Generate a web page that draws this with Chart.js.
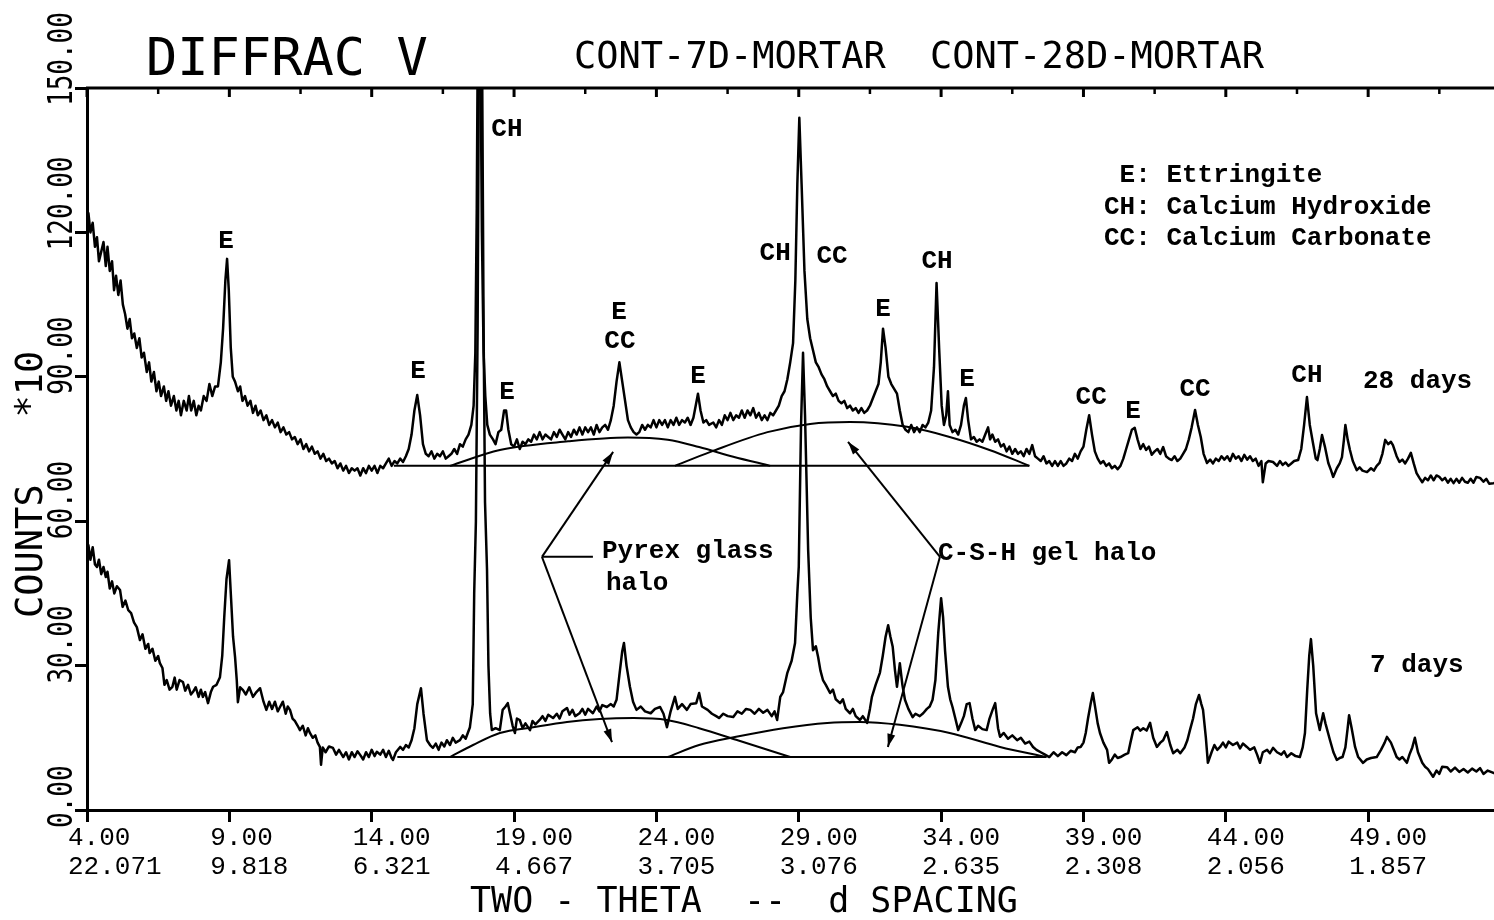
<!DOCTYPE html>
<html>
<head>
<meta charset="utf-8">
<title>DIFFRAC V</title>
<script src="https://cdn.jsdelivr.net/npm/chart.js@4.4.1/dist/chart.umd.min.js"></script>
<style>
  html, body { margin: 0; padding: 0; background: #fff; }
  #xrd { display: block; }
</style>
</head>
<body>
<canvas id="xrd" width="1494" height="920"></canvas>
<script>
// axis ticks: two-theta with the d spacing printed under it, counts (*10)
var thetaTicks = [4, 9, 14, 19, 24, 29, 34, 39, 44, 49];
var dSpacing = ['22.071', '9.818', '6.321', '4.667', '3.705', '3.076', '2.635', '2.308', '2.056', '1.857'];
var countTicks = [0, 30, 60, 90, 120, 150];

// 28 days pattern [two-theta, counts*10]
var trace28 = [
  [3.95,121],[4.05,124],[4.12,120],[4.2,122],[4.28,117],[4.35,119],[4.42,114],[4.5,116],[4.58,118],[4.66,113],
  [4.72,117],[4.8,112],[4.88,114],[4.95,108],[5.02,111],[5.1,107],[5.18,110],[5.26,105],[5.34,103],[5.42,100],
  [5.5,102],[5.58,98],[5.66,99],[5.75,96],[5.84,98],[5.92,94],[6.0,95],[6.1,91],[6.18,93],[6.26,89],
  [6.35,91],[6.44,87],[6.52,89],[6.6,86],[6.7,88],[6.78,85],[6.86,87],[6.95,84],[7.05,86],[7.14,83],
  [7.22,85],[7.3,82],[7.4,85],[7.5,83],[7.58,86],[7.66,83],[7.75,85],[7.84,82],[7.92,84],[8.0,83],
  [8.1,86],[8.2,85],[8.3,88.5],[8.4,86],[8.5,88],[8.6,88],[8.7,93],[8.78,100],[8.86,110],[8.92,114.5],
  [8.98,108],[9.05,96],[9.12,90],[9.2,89],[9.3,87],[9.38,88],[9.46,85],[9.55,86],[9.64,84],[9.74,85],
  [9.83,82.5],[9.92,84],[10.0,82],[10.1,83],[10.2,81],[10.3,82],[10.4,80],[10.5,81],[10.6,79.5],[10.7,80.5],
  [10.8,78.5],[10.9,79.5],[11.0,78],[11.1,78.5],[11.2,77],[11.3,77.5],[11.4,76],[11.5,77],[11.6,75],[11.7,76],
  [11.8,74.5],[11.9,75.5],[12.0,74],[12.1,74.5],[12.2,73],[12.3,74],[12.4,72.5],[12.5,73],[12.6,72],[12.7,72.5],
  [12.8,71],[12.9,72],[13.0,70.5],[13.1,71.5],[13.2,70],[13.3,71],[13.4,70.5],[13.5,71],[13.6,69.5],[13.7,71],
  [13.8,70],[13.9,71.5],[14.0,70.5],[14.1,71.5],[14.2,70],[14.3,71.5],[14.4,71],[14.5,72],[14.6,73],[14.7,71.5],
  [14.8,72.5],[14.9,72],[15.0,73],[15.1,72.3],[15.2,73.5],[15.3,75],[15.4,78],[15.5,83],[15.6,86.2],[15.7,82],
  [15.8,76],[15.9,74],[16.0,73.5],[16.1,74.5],[16.2,73],[16.3,74],[16.4,73.5],[16.5,74.5],[16.6,73],[16.7,73.5],
  [16.8,74],[16.9,75],[17.0,74],[17.1,76],[17.2,75.5],[17.3,77],[17.4,78],[17.5,80],[17.58,84],[17.64,95],
  [17.69,125],[17.74,175],[17.8,175],[17.87,120],[17.93,95],[17.99,86],[18.06,80],[18.15,78],[18.26,77],[18.35,76],
  [18.45,78.5],[18.55,79],[18.65,83],[18.72,83],[18.8,79],[18.9,76],[19.0,75.5],[19.1,77],[19.2,75],[19.3,76.5],
  [19.4,76],[19.5,77],[19.6,76.5],[19.7,78],[19.8,77],[19.9,78.5],[20.0,77],[20.1,78],[20.2,77.5],[20.3,77],
  [20.4,78.5],[20.5,77.5],[20.6,79],[20.7,78],[20.8,77],[20.9,78.5],[21.0,77.5],[21.1,79],[21.2,78],[21.3,79.5],
  [21.4,78],[21.5,79.5],[21.6,78.5],[21.7,79.5],[21.8,78],[21.9,80],[22.0,78.5],[22.1,79.5],[22.2,80],[22.3,79],
  [22.4,81],[22.5,84],[22.6,89],[22.7,93],[22.8,89],[22.9,85],[23.0,81],[23.1,79.5],[23.2,78.5],[23.3,78],
  [23.4,78.5],[23.5,80],[23.6,79],[23.7,80],[23.8,79.5],[23.9,81],[24.0,79.5],[24.1,81],[24.2,80],[24.3,81],
  [24.4,79.5],[24.5,81],[24.6,80],[24.7,81.5],[24.8,80],[24.9,81],[25.0,80.5],[25.1,81.5],[25.2,80],[25.3,81.5],
  [25.38,84],[25.46,86.5],[25.55,83],[25.65,80.5],[25.75,81],[25.85,80],[26.0,80.5],[26.1,79.5],[26.2,81],[26.3,80],
  [26.4,82],[26.5,81],[26.6,82.5],[26.7,81],[26.8,82],[26.9,81.5],[27.0,83],[27.1,81.5],[27.2,83],[27.3,82],
  [27.4,83.5],[27.5,81.5],[27.6,82.5],[27.7,81],[27.8,82],[27.9,81],[28.0,82.5],[28.1,82],[28.2,83],[28.3,84],
  [28.4,86],[28.5,87],[28.6,89.5],[28.7,93],[28.8,97],[28.88,110],[28.95,130],[29.02,143.8],[29.1,130],[29.2,112],
  [29.3,102],[29.4,98],[29.5,95.5],[29.6,93],[29.7,92],[29.8,90.5],[29.9,89.5],[30.0,88],[30.1,87],[30.2,86],
  [30.3,86.5],[30.4,85],[30.5,84.5],[30.6,85],[30.7,83.5],[30.8,84],[30.9,83],[31.0,83.5],[31.1,82.5],[31.2,83.5],
  [31.3,82.5],[31.4,83],[31.5,84],[31.6,85.5],[31.7,87],[31.8,88.5],[31.88,93],[31.96,100],[32.05,96],[32.15,90],
  [32.25,88.5],[32.35,87.5],[32.45,86.5],[32.55,83],[32.65,80],[32.75,79],[32.85,78.5],[32.95,80],[33.05,78.5],[33.15,79.5],
  [33.25,78.5],[33.35,80],[33.45,79.5],[33.55,80.5],[33.65,83],[33.75,92],[33.84,109.5],[33.93,96],[34.02,84],[34.1,80],
  [34.18,82],[34.24,87],[34.3,80],[34.4,78.5],[34.5,79],[34.6,78],[34.7,80],[34.8,84],[34.87,85.6],[34.95,81],
  [35.05,77],[35.15,77.5],[35.25,76.5],[35.35,77],[35.45,76.5],[35.55,78],[35.65,79.5],[35.72,77],[35.8,78],[35.9,76.5],
  [36.0,77],[36.1,75.5],[36.2,76],[36.3,74.5],[36.4,75.5],[36.5,74],[36.6,75],[36.7,74],[36.8,74.5],[36.9,73.5],
  [37.0,75],[37.1,74],[37.2,75.8],[37.3,73.5],[37.4,73],[37.5,72.5],[37.6,73.5],[37.7,72],[37.8,72.5],[37.9,71.5],
  [38.0,72.5],[38.1,71.5],[38.2,72.5],[38.3,71.5],[38.4,72],[38.5,73],[38.6,72.5],[38.7,74],[38.8,73],[38.9,74.5],
  [39.0,75.5],[39.1,79],[39.2,82],[39.3,78],[39.4,74.5],[39.5,73],[39.6,72],[39.7,72.5],[39.8,71.5],[39.9,72],
  [40.0,71],[40.1,71.5],[40.2,70.8],[40.3,71.5],[40.4,73],[40.5,75],[40.6,77],[40.7,79],[40.8,79.4],[40.9,77],
  [41.0,75],[41.1,76],[41.2,74.8],[41.3,75.5],[41.4,73.8],[41.5,74.5],[41.6,75],[41.7,74],[41.8,75.4],[41.9,73.5],
  [42.0,73],[42.1,72.7],[42.2,73.5],[42.3,72.5],[42.4,73],[42.5,74],[42.6,75],[42.7,77],[42.8,79.5],[42.92,83.1],
  [43.02,80],[43.12,77.5],[43.22,74],[43.34,72.1],[43.45,72.8],[43.55,72],[43.65,73],[43.75,72.5],[43.85,73.5],[43.95,72.8],
  [44.05,73.5],[44.15,72.5],[44.25,74],[44.35,73],[44.45,73.5],[44.55,72.5],[44.65,73.8],[44.75,72.8],[44.85,73.5],[44.95,72.5],
  [45.05,73],[45.15,71.5],[45.25,72.5],[45.3,68.1],[45.4,72],[45.5,72.5],[45.66,72.3],[45.8,71.5],[45.9,72.5],[46.0,71.7],
  [46.1,72.2],[46.2,71.5],[46.3,72],[46.4,72.5],[46.54,72.7],[46.65,75],[46.75,80],[46.85,85.8],[46.95,80],[47.06,76.3],
  [47.16,73],[47.22,72.7],[47.3,75],[47.38,77.9],[47.48,75.5],[47.6,72.1],[47.7,70.5],[47.77,69.2],[47.9,71],[48.0,72],
  [48.08,73.3],[48.15,77],[48.2,80],[48.28,77],[48.36,74.8],[48.46,72.5],[48.6,70.6],[48.7,71.2],[48.8,70.5],[48.96,70.2],
  [49.1,71],[49.2,70.5],[49.3,71.5],[49.4,72.1],[49.5,74],[49.6,76.9],[49.7,76],[49.8,76.5],[49.87,75.8],[50.0,73.5],
  [50.1,72.3],[50.2,72.8],[50.3,72],[50.4,73],[50.5,74.2],[50.6,72],[50.7,70],[50.8,69],[50.9,68.1],[51.0,69],
  [51.1,68.5],[51.2,69.5],[51.3,68.5],[51.4,69.5],[51.5,69.2],[51.6,68.5],[51.7,69],[51.8,68],[51.9,68.8],[52.0,67.9],
  [52.1,68.8],[52.2,68],[52.3,69],[52.4,68.2],[52.5,68],[52.6,68.8],[52.7,68],[52.8,69.2],[52.93,69],[53.05,68.2],
  [53.15,68.8],[53.25,67.8],[53.4,67.9],[53.5,68]
];

// 7 days pattern
var trace7 = [
  [3.95,53],[4.05,55],[4.12,52],[4.2,54.6],[4.28,51],[4.35,50.5],[4.42,52],[4.5,49],[4.58,50.5],[4.66,48.4],
  [4.72,49.5],[4.8,46],[4.88,47.5],[4.96,45],[5.05,46.5],[5.16,45.7],[5.25,42.2],[5.35,43.5],[5.45,41.5],[5.55,40.9],
  [5.65,39],[5.75,38],[5.86,35.3],[5.95,36.5],[6.05,33.5],[6.15,34.5],[6.2,32.6],[6.3,33.5],[6.4,31],[6.5,32],
  [6.56,30.5],[6.65,29.5],[6.72,26],[6.8,27],[6.9,25],[7.0,25.6],[7.08,27.5],[7.15,25],[7.25,27],[7.37,26.6],
  [7.45,24.8],[7.55,26],[7.65,24],[7.72,24.5],[7.82,25.5],[7.92,23.5],[8.0,25],[8.07,23.5],[8.15,24.5],[8.25,22.2],
  [8.35,24.5],[8.43,25.6],[8.55,26],[8.67,27.6],[8.75,32],[8.82,40],[8.9,48],[8.99,51.9],[9.06,44],[9.13,36],
  [9.2,31.8],[9.26,27],[9.3,22.4],[9.38,25.5],[9.48,24.9],[9.58,24],[9.7,25.5],[9.83,23.5],[9.95,24.5],[10.08,25.3],
  [10.2,22.5],[10.3,20.8],[10.4,22.5],[10.5,21],[10.6,22.5],[10.7,20.5],[10.78,21.4],[10.88,22.5],[10.98,20],[11.05,21.5],
  [11.13,20.8],[11.22,19],[11.3,18.5],[11.4,17.5],[11.48,16.6],[11.58,17.5],[11.68,15.5],[11.76,17],[11.83,16],[11.93,15],
  [12.02,15.5],[12.1,14],[12.18,13.1],[12.22,9.4],[12.28,13],[12.38,12],[12.5,13.2],[12.64,12.9],[12.75,11.5],[12.85,12.5],
  [13.0,11],[13.1,12],[13.2,10.5],[13.3,12],[13.4,11],[13.5,12.2],[13.6,11.4],[13.7,10.5],[13.8,12],[13.9,11],
  [14.0,12.5],[14.1,11.2],[14.18,12.1],[14.3,11.5],[14.4,12.5],[14.5,11],[14.6,12.3],[14.7,10.8],[14.75,10.4],[14.85,12],
  [15.0,13.1],[15.1,12.5],[15.2,13.5],[15.3,13],[15.4,14.5],[15.5,17],[15.6,22],[15.73,25.3],[15.82,20],[15.94,14.5],
  [16.05,13.5],[16.15,12.9],[16.25,13.8],[16.35,12.5],[16.45,14],[16.55,13.2],[16.64,14.5],[16.75,13.5],[16.85,15],[16.95,14],
  [17.1,14.5],[17.2,15.5],[17.3,14.8],[17.45,17.2],[17.55,22],[17.6,45],[17.66,60],[17.72,100],[17.78,175],[17.86,175],
  [17.93,100],[17.98,64],[18.05,50],[18.1,30],[18.16,20],[18.22,16.6],[18.35,17],[18.5,16.6],[18.6,20.8],[18.7,21.5],
  [18.78,22.2],[18.86,20],[18.95,17.5],[19.03,16],[19.1,19],[19.2,18.7],[19.3,17],[19.4,18],[19.56,16.6],[19.65,18.5],
  [19.75,17.8],[19.9,18.7],[20.0,19.5],[20.1,18.5],[20.2,19.8],[20.37,19.1],[20.5,20],[20.6,19],[20.7,20.5],[20.86,21.2],
  [20.95,19.8],[21.05,20.8],[21.15,19.5],[21.3,20.1],[21.4,21],[21.5,19.8],[21.6,21],[21.77,20.1],[21.9,21.5],[22.0,20.5],
  [22.1,21.8],[22.26,21.4],[22.4,22],[22.5,21.5],[22.6,22.9],[22.7,28],[22.8,33],[22.86,34.7],[22.95,30],[23.07,25.6],
  [23.18,22.5],[23.3,20.8],[23.45,21.5],[23.6,20.5],[23.8,20.1],[23.95,21],[24.13,21.4],[24.25,20],[24.37,17.2],[24.5,20.5],
  [24.65,23.5],[24.75,21],[24.9,22],[25.07,20.8],[25.2,22],[25.4,22.2],[25.5,24.3],[25.6,21.5],[25.8,20.8],[25.95,20],
  [26.1,19.5],[26.2,19.1],[26.35,20],[26.5,19.5],[26.7,19.3],[26.85,20.5],[27.0,20],[27.15,21],[27.3,20.8],[27.45,20],
  [27.6,21],[27.75,20.2],[27.9,20.8],[28.05,19.5],[28.15,20.5],[28.24,18.7],[28.35,23.5],[28.45,24.5],[28.6,28.5],[28.75,31],
  [28.87,34.7],[28.95,45],[29.0,50.5],[29.08,80],[29.15,95],[29.22,82],[29.33,54],[29.42,40],[29.5,33.2],[29.6,34],
  [29.68,31.8],[29.76,29],[29.85,27],[29.95,26],[30.1,24.3],[30.2,25],[30.3,23],[30.45,22.2],[30.55,23],[30.65,21],
  [30.8,20.1],[30.9,21],[31.0,19.5],[31.15,18.7],[31.25,19.5],[31.4,18.1],[31.5,21],[31.57,23.5],[31.7,26],[31.85,28.5],
  [31.95,32],[32.05,36],[32.14,38.4],[32.22,36],[32.3,33.9],[32.38,29],[32.45,25.6],[32.55,30.5],[32.64,26],[32.73,22.9],
  [32.85,21],[33.0,19.3],[33.1,20],[33.25,19.5],[33.37,20.1],[33.5,21],[33.6,21.5],[33.7,22.9],[33.8,27],[33.9,36.8],
  [34.0,44],[34.07,40],[34.14,33],[34.24,25.6],[34.32,23],[34.4,21.4],[34.5,19],[34.6,16.6],[34.7,18],[34.8,19.5],
  [34.9,22],[35.0,22.2],[35.1,19],[35.2,16.6],[35.3,17.5],[35.45,16.8],[35.6,16.6],[35.7,19],[35.82,21],[35.9,22.2],
  [36.0,17],[36.07,15.2],[36.2,16],[36.35,14.8],[36.5,15.5],[36.67,14.5],[36.8,15],[36.95,13.8],[37.1,14.2],[37.23,13.1],
  [37.35,12.5],[37.5,12],[37.65,11.5],[37.8,11],[37.95,12],[38.1,11.2],[38.25,12],[38.4,11.4],[38.55,12.3],[38.7,12],
  [38.8,13],[38.9,13.1],[39.0,14],[39.08,16],[39.16,19],[39.25,22],[39.33,24.3],[39.42,21],[39.5,18],[39.58,16],
  [39.7,14],[39.83,12.5],[39.9,9.8],[40.0,10.5],[40.1,11.5],[40.2,10.8],[40.3,11],[40.45,11.5],[40.57,11.8],[40.65,14],
  [40.75,16.6],[40.9,17.2],[41.0,16.5],[41.1,17],[41.22,16.5],[41.34,18.1],[41.45,15],[41.58,13.1],[41.7,14],[41.8,14.5],
  [41.93,16.2],[42.05,13.5],[42.15,11.8],[42.3,12.5],[42.4,11.8],[42.55,13],[42.65,14.5],[42.74,16.6],[42.85,19],[42.95,22],
  [43.06,23.9],[43.14,22],[43.2,20.8],[43.3,15],[43.37,9.8],[43.5,12],[43.6,13.5],[43.7,12.5],[43.8,13.1],[43.9,14],
  [44.0,13],[44.1,14.2],[44.25,13.5],[44.4,14],[44.5,12.8],[44.6,13.8],[44.74,13.1],[44.85,12.5],[45.0,13],[45.1,11.5],
  [45.2,9.8],[45.3,12],[45.45,12.5],[45.55,11.8],[45.66,12.9],[45.8,12],[45.95,11.5],[46.05,12.2],[46.15,11],[46.3,11.8],
  [46.45,11.2],[46.6,11],[46.7,13],[46.78,16],[46.86,25],[46.93,32],[46.99,35.5],[47.07,30],[47.17,20.1],[47.25,18],
  [47.3,16.6],[47.42,20.1],[47.5,18],[47.66,14.5],[47.78,12],[47.9,10.4],[48.0,10.8],[48.1,11],[48.2,13],[48.28,17],
  [48.33,19.7],[48.42,17],[48.54,13.1],[48.65,11],[48.82,9.8],[48.95,10.5],[49.1,10.8],[49.3,11],[49.45,12.5],[49.58,14],
  [49.66,15.2],[49.8,14],[49.9,12.5],[50.0,11],[50.1,10.5],[50.2,11],[50.36,9.8],[50.45,11.5],[50.55,13],[50.64,15],
  [50.75,12],[50.9,9.8],[51.0,9],[51.1,8.5],[51.28,6.9],[51.4,8.2],[51.5,7.5],[51.6,9],[51.77,8.9],[51.9,8],
  [52.05,8.8],[52.2,7.9],[52.35,8.5],[52.5,7.8],[52.65,8.6],[52.8,8],[52.93,8.7],[53.05,7.5],[53.2,8.2],[53.4,7.7],
  [53.5,7.5]
];

// background lines and the two amorphous halos under each pattern
var base28 = [[14.78, 71.5], [37.1, 71.5]];
var pyrex28 = [[16.75, 71.5], [18.5, 74.8], [20.9, 76.6], [23.0, 77.4], [24.4, 76.9], [25.5, 75.4], [26.7, 73.4], [28.0, 71.5]];
var csh28 = [[24.65, 71.5], [25.9, 74.4], [27.9, 78.5], [29.4, 80.2], [30.8, 80.6], [32.8, 79.6], [34.3, 77.5], [35.7, 74.8], [37.1, 71.5]];
var base7 = [[14.9, 11], [37.7, 11]];
var pyrex7 = [[16.75, 11], [17.56, 13.5], [18.5, 16], [19.67, 17.2], [20.86, 18.3], [22.0, 18.9], [23.2, 19.1], [24.37, 18.7], [25.5, 17], [26.8, 14.6], [28.7, 11]];
var csh7 = [[24.4, 11], [25.5, 13.5], [26.8, 15.2], [28.45, 17], [30.0, 18.1], [31.15, 18.3], [32.55, 17.7], [34.3, 16], [36.07, 13.1], [37.7, 11]];

// phase labels [text, two-theta, counts]
var peakLabels = [
  ['E', 8.88, 118.2], ['E', 15.63, 91.2], ['CH', 18.75, 141.3], ['E', 18.75, 86.8],
  ['E', 22.69, 103.3], ['CC', 22.72, 97.4], ['E', 25.46, 90.0], ['CH', 28.17, 115.7],
  ['CC', 30.17, 114.9], ['E', 31.96, 103.9], ['CH', 33.86, 113.9], ['E', 34.91, 89.5],
  ['CC', 39.27, 85.8], ['E', 40.74, 82.9], ['CC', 42.92, 87.3], ['CH', 46.85, 90.2]
];
var legendLines = [' E: Ettringite', 'CH: Calcium Hydroxide', 'CC: Calcium Carbonate'];

// callout arrows: label joint and arrow tips
var pyrexJoint = [19.98, 52.6], pyrexTips = [[22.48, 74.4], [22.44, 14.1]];
var cshJoint = [33.96, 52.6], cshTips = [[30.73, 76.5], [32.13, 13.1]];

function pts(arr) {
  return arr.map(function (p) { return { x: p[0], y: p[1] }; });
}

function line(arr, w, smooth) {
  return {
    data: pts(arr),
    borderColor: '#000',
    borderWidth: w,
    pointRadius: 0,
    borderJoinStyle: 'round',
    cubicInterpolationMode: smooth ? 'monotone' : 'default',
    tension: 0
  };
}

var overlay = {
  id: 'overlay',
  afterDraw: function (chart) {
    var c = chart.ctx, a = chart.chartArea;
    var xs = chart.scales.x, ys = chart.scales.y;
    var px = function (v) { return xs.getPixelForValue(v); };
    var py = function (v) { return ys.getPixelForValue(v); };
    c.save();
    c.strokeStyle = '#000';
    c.fillStyle = '#000';

    // top frame with inward ticks
    c.lineWidth = 3;
    c.beginPath();
    c.moveTo(a.left - 1, a.top);
    c.lineTo(a.right, a.top);
    c.stroke();
    for (var t = 4; t < xs.max; t += 2.5) {
      var major = (t - 4) % 5 === 0;
      c.lineWidth = major ? 3 : 2.5;
      c.beginPath();
      c.moveTo(px(t), a.top);
      c.lineTo(px(t), a.top + (major ? 9 : 6));
      c.stroke();
    }

    // rotated count labels
    countTicks.forEach(function (v) {
      c.save();
      c.translate(72, py(v) + 18);
      c.rotate(-Math.PI / 2);
      c.scale(1, 1.3);
      c.font = '26px "DejaVu Sans Mono"';
      c.textAlign = 'left';
      c.textBaseline = 'alphabetic';
      c.fillText(v.toFixed(2), 0, 0);
      c.restore();
    });

    // axis titles
    c.save();
    c.translate(42, 618);
    c.rotate(-Math.PI / 2);
    c.font = '37px "DejaVu Sans Mono"';
    c.textAlign = 'left';
    c.fillText('COUNTS   *10', 0, 0);
    c.restore();

    c.font = '35px "DejaVu Sans Mono"';
    c.textAlign = 'left';
    c.textBaseline = 'alphabetic';
    c.fillText('TWO - THETA  --  d SPACING', 470, 912);

    // header
    c.font = '52px "DejaVu Sans Mono"';
    c.fillText('DIFFRAC V', 146, 75);
    c.font = '37px "DejaVu Sans Mono"';
    c.fillText('CONT-7D-MORTAR', 574, 68);
    c.fillText('CONT-28D-MORTAR', 930, 68);

    // phase labels
    c.font = 'bold 26px "Liberation Mono"';
    c.textAlign = 'center';
    c.textBaseline = 'middle';
    peakLabels.forEach(function (l) {
      c.fillText(l[0], px(l[1]), py(l[2]));
    });

    c.textAlign = 'left';
    c.textBaseline = 'alphabetic';
    legendLines.forEach(function (s, i) {
      c.fillText(s, 1104, 182 + i * 31.5);
    });
    c.fillText('28 days', 1363, 388);
    c.fillText('7 days', 1370, 672);
    c.fillText('Pyrex glass', 602, 558);
    c.fillText('halo', 606, 590);
    c.fillText('C-S-H gel halo', 938, 560);

    // callout lines with arrow heads
    function arrow(from, to) {
      var x0 = px(from[0]), y0 = py(from[1]), x1 = px(to[0]), y1 = py(to[1]);
      var ang = Math.atan2(y1 - y0, x1 - x0);
      c.lineWidth = 2;
      c.beginPath();
      c.moveTo(x0, y0);
      c.lineTo(x1, y1);
      c.stroke();
      c.beginPath();
      c.moveTo(x1, y1);
      c.lineTo(x1 - 13 * Math.cos(ang) + 4 * Math.sin(ang), y1 - 13 * Math.sin(ang) - 4 * Math.cos(ang));
      c.lineTo(x1 - 13 * Math.cos(ang) - 4 * Math.sin(ang), y1 - 13 * Math.sin(ang) + 4 * Math.cos(ang));
      c.closePath();
      c.fill();
    }
    pyrexTips.forEach(function (tp) { arrow(pyrexJoint, tp); });
    cshTips.forEach(function (tp) { arrow(cshJoint, tp); });
    c.lineWidth = 2;
    c.beginPath();
    c.moveTo(px(pyrexJoint[0]), py(pyrexJoint[1]));
    c.lineTo(px(21.77), py(pyrexJoint[1]));
    c.stroke();

    c.restore();
  }
};

Chart.defaults.color = '#000';

new Chart(document.getElementById('xrd'), {
  type: 'line',
  data: {
    datasets: [
      line(trace28, 2.5, false),
      line(trace7, 2.5, false),
      line(base28, 2, false),
      line(base7, 2, false),
      line(pyrex28, 2, true),
      line(csh28, 2, true),
      line(pyrex7, 2, true),
      line(csh7, 2, true)
    ]
  },
  options: {
    responsive: false,
    animation: false,
    events: [],
    layout: { padding: { top: 88, left: 0, right: 0, bottom: 0 } },
    plugins: {
      legend: { display: false },
      tooltip: { enabled: false }
    },
    scales: {
      x: {
        type: 'linear',
        min: 4,
        max: 53.42,
        afterBuildTicks: function (s) {
          s.ticks = thetaTicks.map(function (v) { return { value: v }; });
        },
        afterFit: function (s) { s.height = 110; },
        ticks: {
          autoSkip: false,
          maxRotation: 0,
          minRotation: 0,
          align: 'start',
          labelOffset: -19,
          padding: 2,
          font: { family: 'Liberation Mono', size: 26, lineHeight: 1.1 },
          callback: function (v) {
            var i = thetaTicks.indexOf(v);
            return [v.toFixed(2), dSpacing[i]];
          }
        },
        grid: { drawOnChartArea: false, tickLength: 12, tickWidth: 3, tickColor: '#000' },
        border: { color: '#000', width: 3 }
      },
      y: {
        min: 0,
        max: 150,
        afterBuildTicks: function (s) {
          s.ticks = countTicks.map(function (v) { return { value: v }; });
        },
        afterFit: function (s) { s.width = 87; },
        ticks: { display: false },
        grid: { drawOnChartArea: false, tickLength: 12, tickWidth: 3, tickColor: '#000' },
        border: { color: '#000', width: 3 }
      }
    }
  },
  plugins: [overlay]
});
</script>
</body>
</html>
